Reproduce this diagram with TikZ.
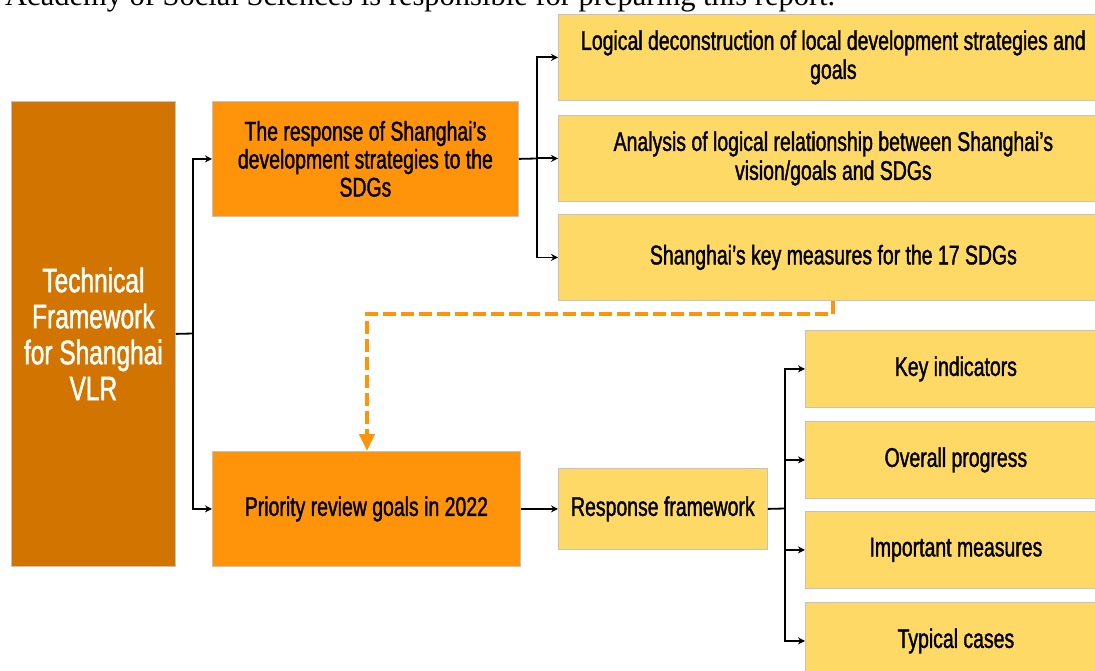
\documentclass[tikz,border=0pt]{standalone}
\usepackage{fontspec}
\setmainfont{Liberation Serif}
\newfontfamily\osw{Liberation Sans}[FakeStretch=0.72,FakeBold=1.3]
\usetikzlibrary{arrows.meta}
\definecolor{mainor}{RGB}{210,117,0}
\definecolor{brightor}{RGB}{255,148,10}
\definecolor{yel}{RGB}{255,217,102}
\definecolor{bord}{RGB}{195,195,195}
\begin{document}
\begin{tikzpicture}[x=1pt,y=-1pt,
  box/.style={draw=bord, line width=0.8pt, anchor=north west, inner sep=0pt, align=center,
    font=\osw\fontsize{27}{29}\selectfont, text=black},
  ybox/.style={box, fill=yel},
  obox/.style={box, fill=brightor},
  arr/.style={draw=black, line width=1.8pt, -{Stealth[length=7pt,width=7pt]}},
  plain/.style={draw=black, line width=1.8pt},
  dsh/.style={draw=brightor, line width=4pt, dash pattern=on 13pt off 5pt, line join=miter,
    -{Triangle[length=17pt,width=15pt]}}
]
\useasboundingbox (0,0) rectangle (1095,671);
\fill[white] (0,0) rectangle (1095,671);

% header text, cut off at the top edge as in the reference
\node[anchor=base west, inner sep=0pt] (hdr) at (5,6)
  {\resizebox{830pt}{!}{Academy of Social Sciences is responsible for preparing this report.}};

% main box
\node[box, fill=mainor, text=white, minimum width=164pt, minimum height=465pt,
  font=\osw\fontsize{34}{36}\selectfont] (main) at (11,101)
  {Technical\\Framework\\for Shanghai\\VLR};

% orange boxes
\node[obox, minimum width=306pt, minimum height=115pt, font=\osw\fontsize{27}{28}\selectfont] (A) at (212,101)
  {The response of Shanghai’s\\development strategies to the\\SDGs};
\node[obox, minimum width=308pt, minimum height=115pt] (B) at (212,451)
  {Priority review goals in 2022};

% top yellow boxes
\node[ybox, minimum width=550pt, minimum height=86pt] (y1) at (558,14)
  {Logical deconstruction of local development strategies and\\goals};
\node[ybox, minimum width=550pt, minimum height=86pt] (y2) at (558,115)
  {Analysis of logical relationship between Shanghai’s\\vision/goals and SDGs};
\node[ybox, minimum width=550pt, minimum height=86pt] (y3) at (558,214)
  {Shanghai’s key measures for the 17 SDGs};

% response framework
\node[ybox, minimum width=209pt, minimum height=81pt] (rf) at (558,468)
  {Response framework};

% right column
\node[ybox, minimum width=301pt, minimum height=77pt] (r1) at (805,330) {Key indicators};
\node[ybox, minimum width=301pt, minimum height=77pt] (r2) at (805,421) {Overall progress};
\node[ybox, minimum width=301pt, minimum height=77pt] (r3) at (805,511) {Important measures};
\node[ybox, minimum width=301pt, minimum height=77pt] (r4) at (805,602) {Typical cases};

% connectors
\coordinate (j1) at (193,333.5);
\draw[plain] (main.east) -- (j1);
\draw[arr] (j1) |- (A.west);
\draw[arr] (j1) |- (B.west);

\coordinate (j2) at (537,158.5);
\draw[plain] (A.east) -- (j2);
\draw[arr] (j2) |- (y1.west);
\draw[arr] (j2) |- (y2.west);
\draw[arr] (j2) |- (y3.west);

\draw[arr] (B.east) -- (rf.west);

\coordinate (j3) at (785,508.5);
\draw[plain] (rf.east) -- (j3);
\draw[arr] (j3) |- (r1.west);
\draw[arr] (j3) |- (r2.west);
\draw[arr] (j3) |- (r3.west);
\draw[arr] (j3) |- (r4.west);

% dashed link
\coordinate (d1) at (833,314);
\coordinate (d2) at (367,314);
\draw[dsh] (y3.south -| d1) -- (d1) -- (d2) -- (B.north -| d2);
\end{tikzpicture}
\end{document}
